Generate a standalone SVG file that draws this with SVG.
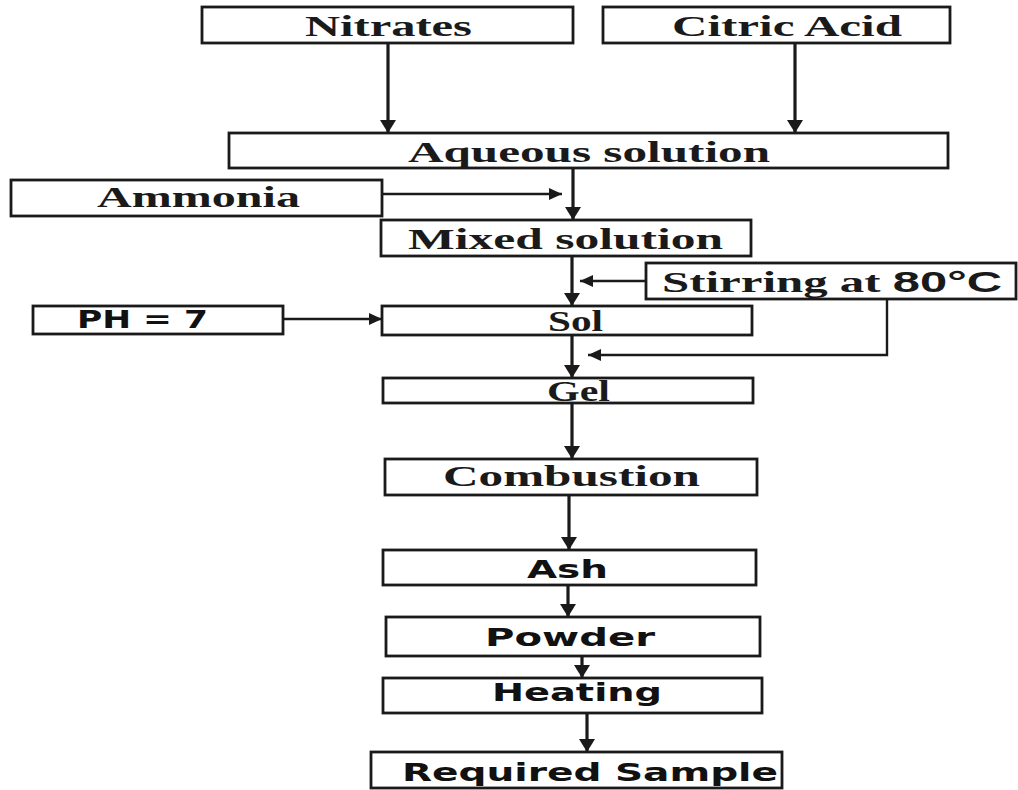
<svg xmlns="http://www.w3.org/2000/svg" width="1018" height="790" viewBox="0 0 1018 790">
<style>
.box{fill:#fff;stroke:#1a1a1a;stroke-width:2.8}
.s{font-family:"Liberation Serif","Times New Roman",serif;font-weight:bold;font-size:30px;fill:#1a1a1a}
.a{font-family:"DejaVu Sans","Verdana",sans-serif;font-weight:bold;font-size:25px;fill:#111}
.c{fill:none;stroke:#1a1a1a;stroke-width:3.2}
.h{fill:none;stroke:#1a1a1a;stroke-width:2.4}
</style>
<defs>
<marker id="ah" markerUnits="userSpaceOnUse" markerWidth="14" markerHeight="16" refX="13" refY="8" orient="auto">
<path d="M0,0 L13,8 L0,16 z" fill="#1a1a1a"/>
</marker>
<marker id="as" markerUnits="userSpaceOnUse" markerWidth="14" markerHeight="12" refX="13" refY="6" orient="auto">
<path d="M0,0 L13,6 L0,12 z" fill="#1a1a1a"/>
</marker>
</defs>
<rect width="1018" height="790" fill="#fff"/>
<g id="connectors">
<line class="c" x1="388" y1="43" x2="388" y2="133" marker-end="url(#ah)"/>
<line class="c" x1="795" y1="43" x2="795" y2="133" marker-end="url(#ah)"/>
<line class="c" x1="573" y1="168" x2="573" y2="220" marker-end="url(#ah)"/>
<line class="h" x1="382" y1="194" x2="562" y2="194" marker-end="url(#as)"/>
<line class="c" x1="572" y1="256" x2="572" y2="306" marker-end="url(#ah)"/>
<line class="h" x1="646" y1="281" x2="580" y2="281" marker-end="url(#as)"/>
<line class="h" x1="283" y1="319" x2="382" y2="319" marker-end="url(#as)"/>
<line class="c" x1="572" y1="335" x2="572" y2="378" marker-end="url(#ah)"/>
<polyline class="h" points="887,299 887,355 588,355" marker-end="url(#as)"/>
<line class="c" x1="572" y1="403" x2="572" y2="459" marker-end="url(#ah)"/>
<line class="c" x1="569" y1="495" x2="569" y2="550" marker-end="url(#ah)"/>
<line class="c" x1="568" y1="585" x2="568" y2="617" marker-end="url(#ah)"/>
<line class="c" x1="582" y1="656" x2="582" y2="678" marker-end="url(#ah)"/>
<line class="c" x1="587" y1="713" x2="587" y2="752" marker-end="url(#ah)"/>
</g>
<g id="nitrates"><rect class="box" x="202" y="7" width="371" height="36"/><text class="s" x="305" y="36" textLength="167" lengthAdjust="spacingAndGlyphs">Nitrates</text></g>
<g id="citric"><rect class="box" x="603" y="7" width="347" height="36"/><text class="s" x="672" y="36" textLength="230" lengthAdjust="spacingAndGlyphs">Citric Acid</text></g>
<g id="aqueous"><rect class="box" x="229" y="133" width="719" height="35"/><text class="s" x="408" y="162" textLength="362" lengthAdjust="spacingAndGlyphs">Aqueous solution</text></g>
<g id="ammonia"><rect class="box" x="11" y="180" width="371" height="36"/><text class="s" x="97" y="207" textLength="203" lengthAdjust="spacingAndGlyphs">Ammonia</text></g>
<g id="mixed"><rect class="box" x="381" y="220" width="370" height="36"/><text class="s" x="408" y="249" textLength="315" lengthAdjust="spacingAndGlyphs">Mixed solution</text></g>
<g id="stirring"><rect class="box" x="646" y="263" width="370" height="36"/><text class="s" x="662" y="292" textLength="340" lengthAdjust="spacingAndGlyphs">Stirring at <tspan style="font-family:'Liberation Sans',Arial,sans-serif">80°C</tspan></text></g>
<g id="ph"><rect class="box" x="33" y="306" width="250" height="28"/><text class="a" x="77" y="328" textLength="131" lengthAdjust="spacingAndGlyphs">PH = 7</text></g>
<g id="sol"><rect class="box" x="382" y="306" width="370" height="29"/><text class="s" x="548" y="331" textLength="55" lengthAdjust="spacingAndGlyphs">Sol</text></g>
<g id="gel"><rect class="box" x="383" y="378" width="370" height="25"/><text class="s" x="547" y="401" textLength="63" lengthAdjust="spacingAndGlyphs">Gel</text></g>
<g id="combustion"><rect class="box" x="385" y="459" width="372" height="36"/><text class="s" x="443" y="486" textLength="257" lengthAdjust="spacingAndGlyphs">Combustion</text></g>
<g id="ash"><rect class="box" x="383" y="550" width="373" height="35"/><text class="a" x="527" y="578" textLength="81" lengthAdjust="spacingAndGlyphs">Ash</text></g>
<g id="powder"><rect class="box" x="386" y="617" width="374" height="39"/><text class="a" x="485" y="646" textLength="170" lengthAdjust="spacingAndGlyphs">Powder</text></g>
<g id="heating"><rect class="box" x="383" y="678" width="379" height="35"/><text class="a" x="492" y="701" textLength="170" lengthAdjust="spacingAndGlyphs">Heating</text></g>
<g id="required"><rect class="box" x="371" y="752" width="411" height="36"/><text class="a" x="402" y="781" textLength="376" lengthAdjust="spacingAndGlyphs">Required Sample</text></g>
</svg>
